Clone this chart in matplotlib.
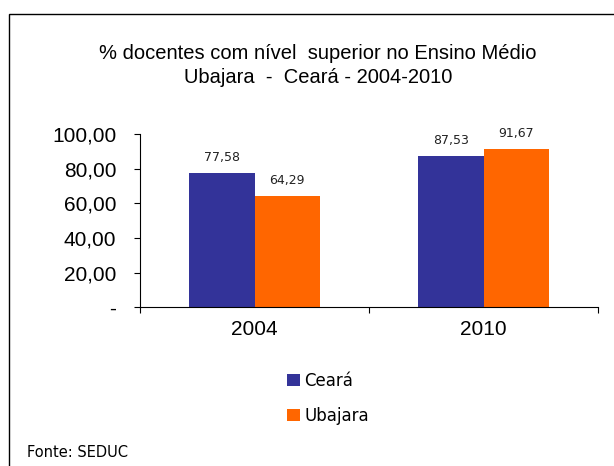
import matplotlib
matplotlib.use("Agg")
import matplotlib.pyplot as plt
from matplotlib.patches import Rectangle
import numpy as np

categories = ["2004", "2010"]
ceara = [77.58, 87.53]
ubajara = [64.29, 91.67]
yticks = [0, 20, 40, 60, 80, 100]
ytick_labels = ["-", "20,00", "40,00", "60,00", "80,00", "100,00"]

fig = plt.figure(figsize=(6.14, 4.66), dpi=100)
ax = fig.add_axes([0.228, 0.341, 0.746, 0.371])

x = np.arange(len(categories))
w = 0.286
c_blue = "#333399"
c_orange = "#FF6600"
b1 = ax.bar(x - w/2, ceara, w, color=c_blue, label="Ceará")
b2 = ax.bar(x + w/2, ubajara, w, color=c_orange, label="Ubajara")

for bars, vals in ((b1, ceara), (b2, ubajara)):
    for r, v in zip(bars, vals):
        ax.annotate(f"{v:.2f}".replace(".", ","),
                    (r.get_x() + r.get_width()/2, r.get_height()),
                    xytext=(0, 6.5), textcoords="offset points",
                    ha="center", va="bottom", fontsize=9,
                    family="DejaVu Sans", color="#222222")

ax.set_xlim(-0.5, 1.5)
ax.set_ylim(0, 100)
ax.set_yticks(yticks)
ax.set_yticklabels(ytick_labels, family="Liberation Sans", fontsize=15)
ax.set_xticks([-0.5, 0.5, 1.5])
ax.set_xticklabels([])
ax.set_xticks(x, minor=True)
ax.set_xticklabels(categories, minor=True, family="Liberation Sans", fontsize=15)
ax.tick_params(axis="x", which="minor", length=0, pad=9)
ax.tick_params(axis="x", which="major", length=4, direction="out")
ax.tick_params(axis="y", length=4, direction="out", pad=13)
for s in ("top", "right"):
    ax.spines[s].set_visible(False)
ax.spines["left"].set_linewidth(0.8)
ax.spines["bottom"].set_linewidth(0.8)

fig.text(0.518, 0.886, "% docentes com nível  superior no Ensino Médio",
         ha="center", va="center", family="Liberation Sans", fontsize=14.5)
fig.text(0.518, 0.833, "Ubajara  -  Ceará - 2004-2010",
         ha="center", va="center", family="Liberation Sans", fontsize=14.5)

leg = fig.legend(handles=[b1, b2], loc="upper left",
                 bbox_to_anchor=(0.454, 0.22), frameon=False,
                 prop={"family": "DejaVu Sans", "size": 12},
                 handlelength=0.75, handleheight=0.75, handletextpad=0.3,
                 labelspacing=1.03, borderpad=0)

fig.text(0.044, 0.030, "Fonte: SEDUC", ha="left", va="center",
         family="DejaVu Sans", fontsize=10.5)

fig.patches.append(Rectangle((0.0145, -0.1), 1.2, 1.07, transform=fig.transFigure,
                             fill=False, edgecolor="black", linewidth=1.0))

fig.savefig("out.png", dpi=100)
